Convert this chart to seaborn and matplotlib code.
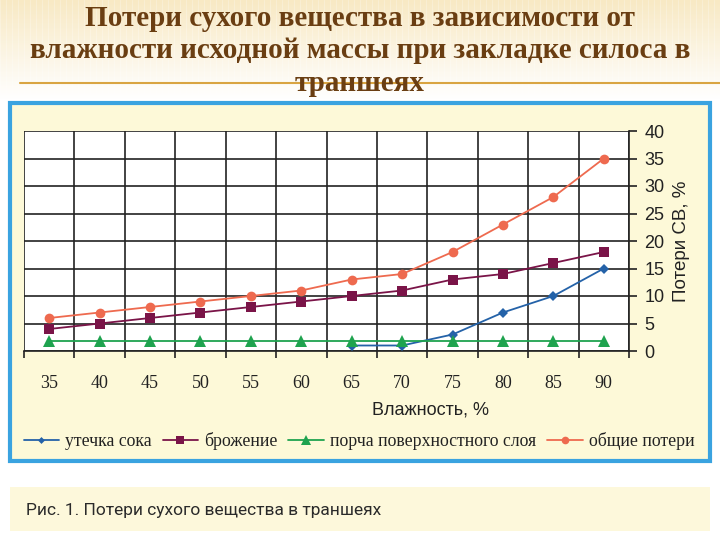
import matplotlib
matplotlib.use("Agg")
import matplotlib.pyplot as plt
from matplotlib.patches import Rectangle
from matplotlib.lines import Line2D
from matplotlib.colors import LinearSegmentedColormap
import numpy as np
import pandas as pd
import seaborn as sns

# ---- data ----
moisture = [35, 40, 45, 50, 55, 60, 65, 70, 75, 80, 85, 90]
juice_loss = [None, None, None, None, None, None, 1, 1, 3, 7, 10, 15]
fermentation = [4, 5, 6, 7, 8, 9, 10, 11, 13, 14, 16, 18]
surface_spoil = [1.8] * 12
total_loss = [6, 7, 8, 9, 10, 11, 13, 14, 18, 23, 28, 35]
series_names = ["утечка сока", "брожение", "порча поверхностного слоя", "общие потери"]
y_ticks = [0, 5, 10, 15, 20, 25, 30, 35, 40]

title = "Потери сухого вещества в зависимости от\nвлажности исходной массы при закладке силоса в\nтраншеях"
caption = "Рис. 1. Потери сухого вещества в траншеях"

sns.set_theme(style="white")
plt.rcParams["font.family"] = ["Liberation Sans", "DejaVu Sans"]

W, H = 720, 540
fig = plt.figure(figsize=(7.2, 5.4), dpi=100)
fig.patch.set_facecolor("white")

# background gradient at top
bg = fig.add_axes([0, 0, 1, 1], zorder=-10)
bg.set_xlim(0, W); bg.set_ylim(H, 0); bg.axis("off")
grad = np.linspace(1, 0, 100)[:, None] * np.ones((1, 10))
cm = LinearSegmentedColormap.from_list("bgc", ["#ffffff", "#f8e9c4"])
bg.imshow(grad, extent=[0, W, 100, 0], cmap=cm, aspect="auto", vmin=0, vmax=1)
for xs in range(0, W, 6):
    bg.add_line(Line2D([xs, xs], [0, 96], color="white", lw=0.8, alpha=0.25))
bg.add_line(Line2D([20, 720], [83, 83], color="#d9a441", lw=1.5))
# chart box
bg.add_patch(Rectangle((10, 103), 700, 358, facecolor="#fdf9d8", edgecolor="#3aa3e0", lw=3))
# caption box
bg.add_patch(Rectangle((10, 487), 700, 44, facecolor="#fdf8db", edgecolor="none"))
bg.text(26, 511, caption, fontsize=12.5, color="#2a2a2a", va="center", ha="left",
        family=["Roboto", "DejaVu Sans"], fontstretch="condensed")

# title
fig.text(0.5, 1 - 51 / H, title, ha="center", va="center", fontsize=21,
         fontweight="bold", color="#6a3e12", family=["Liberation Serif", "DejaVu Serif"],
         linespacing=1.25, zorder=5)

# plot axes
left, right, top, bottom = 24, 629, 131, 351
ax = fig.add_axes([left / W, 1 - bottom / H, (right - left) / W, (bottom - top) / H])
ax.set_facecolor("white")

df = pd.DataFrame({
    "x": moisture * 4,
    "y": juice_loss + fermentation + surface_spoil + total_loss,
    "s": sum([[n] * 12 for n in series_names], []),
}).dropna()

palette = {series_names[0]: "#2462a8", series_names[1]: "#7a1448",
           series_names[2]: "#1fa34f", series_names[3]: "#ee6a4f"}
markers = {series_names[0]: "D", series_names[1]: "s",
           series_names[2]: "^", series_names[3]: "o"}
sizes_m = {series_names[0]: 5, series_names[1]: 7, series_names[2]: 8, series_names[3]: 7}

for n in series_names:
    d = df[df["s"] == n]
    sns.lineplot(data=d, x="x", y="y", ax=ax, color=palette[n], marker=markers[n],
                 markersize=sizes_m[n], markeredgewidth=0, lw=1.3, legend=False, zorder=3)

ax.set_xlim(32.5, 92.5)
ax.set_ylim(0, 40)
ax.set_xticks(moisture)
ax.set_xticklabels([str(m) for m in moisture], family=["Liberation Serif"], fontsize=13, color="#222")
ax.set_xticks([32.5 + 5 * k for k in range(13)], minor=True)
ax.tick_params(axis="x", which="major", length=0, pad=17)
ax.tick_params(axis="x", which="minor", length=5, width=1.2, color="#222", direction="out", bottom=True)
ax.grid(True, which="minor", axis="x", color="#222", lw=1.2)
ax.yaxis.tick_right()
ax.set_yticks(y_ticks)
ax.set_yticklabels([str(t) for t in y_ticks], fontsize=13, color="#222")
ax.tick_params(axis="y", length=6, width=1.2, color="#222", direction="out", right=True, left=False, pad=5)
ax.grid(True, which="major", axis="y", color="#222", lw=1.2)
for sp in ax.spines.values():
    sp.set_visible(False)
for s in ("bottom", "right"):
    ax.spines[s].set_visible(True)
    ax.spines[s].set_color("#222")
    ax.spines[s].set_linewidth(1.2)
ax.set_xlabel("")
ax.set_ylabel("")

fig.text(430 / W, 1 - 410 / H, "Влажность, %", ha="center", va="center", fontsize=13, color="#222")
fig.text(681 / W, 1 - 241 / H, "Потери СВ, %", ha="center", va="center", fontsize=13.5,
         color="#222", rotation=90)

handles = [Line2D([], [], color=palette[n], marker=markers[n], markersize=sizes_m[n] - 1.5,
                  markeredgewidth=0, lw=1.3) for n in series_names]
leg = fig.legend(handles, series_names, loc="center", bbox_to_anchor=(359 / W, 1 - 441 / H),
                 ncol=4, frameon=False, handlelength=2.0, handletextpad=0.35, columnspacing=0.6,
                 prop={"family": "Liberation Serif", "size": 12.8})
for t in leg.get_texts():
    t.set_color("#222")

fig.savefig("out.png", dpi=100)
